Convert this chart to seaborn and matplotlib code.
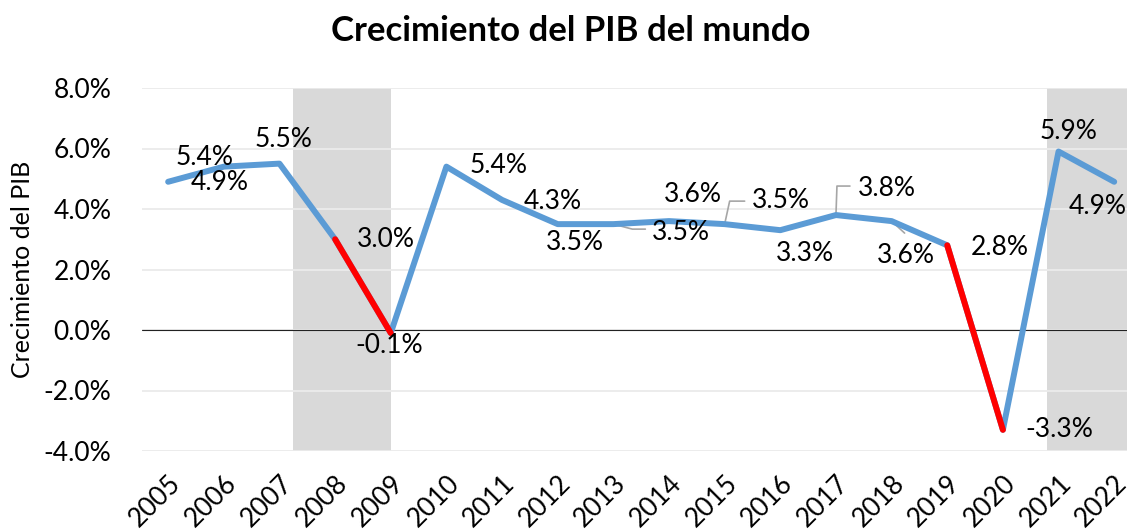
import numpy as np
import pandas as pd
import matplotlib
matplotlib.use("Agg")
import matplotlib.pyplot as plt
import seaborn as sns

# World GDP growth (%)
years = list(range(2005, 2023))
growth = [4.9, 5.4, 5.5, 3.0, -0.1, 5.4, 4.3, 3.5, 3.5, 3.6, 3.5, 3.3, 3.8, 3.6, 2.8, -3.3, 5.9, 4.9]
labels = ["4.9%", "5.4%", "5.5%", "3.0%", "-0.1%", "5.4%", "4.3%", "3.5%", "3.5%",
          "3.6%", "3.5%", "3.3%", "3.8%", "3.6%", "2.8%", "-3.3%", "5.9%", "4.9%"]
crisis_segments = [(2008, 2009), (2019, 2020)]
shade_spans = [(2007.25, 2009.0), (2020.8, 2022.3)]

# label offsets in pixels (x right, y up)
label_offsets = [(52, -1), (-19, 9), (4, 24), (51, 0), (-2, -12), (52, 1), (51, -2),
                 (17, -18), (68, -8), (24, 27), (56, 24), (25, -23), (51, 27), (14, -34),
                 (52, -2), (56, 0), (10, 20), (-16, -25)]
leaders = {2013: [(0, 0), (19, -5), (32, -5)],
           2015: [(0, 0), (5, 23), (20, 23)],
           2017: [(0, 0), (1, 29), (14, 29)],
           2018: [(0, 0), (13, -12)]}

df = pd.DataFrame({"year": years, "growth": growth})

sns.set_style("white")
plt.rcParams["font.family"] = ["Lato", "DejaVu Sans"]
plt.rcParams["text.color"] = "black"
plt.rcParams["axes.labelcolor"] = "black"
plt.rcParams["xtick.color"] = "black"
plt.rcParams["ytick.color"] = "black"

fig = plt.figure(figsize=(11.27, 5.29), dpi=100)
ax = fig.add_axes([142 / 1127, 1 - 451 / 529, 1 - 142 / 1127, (451 - 88) / 529])

for a, b in shade_spans:
    ax.axvspan(a, b, color="#d9d9d9", lw=0, zorder=0.2)

sns.lineplot(data=df, x="year", y="growth", color="#5b9bd5", lw=4.3, ax=ax, zorder=3)
for a, b in crisis_segments:
    seg = df[(df["year"] >= a) & (df["year"] <= b)]
    sns.lineplot(data=seg, x="year", y="growth", color="#ff0000", lw=4.3, ax=ax, zorder=4)

ax.axhline(0, color="#222222", lw=0.8, zorder=2)

ax.set_xlim(2004.53, 2022.23)
ax.set_ylim(-4, 8)
ax.set_yticks(np.arange(-4, 9, 2))
ax.set_yticklabels([f"{v:.1f}%" for v in np.arange(-4, 9, 2)])
ax.set_xticks(years)
ax.set_xticklabels([str(y) for y in years], rotation=45, ha="right", rotation_mode="anchor")
ax.tick_params(axis="y", length=0, pad=22, labelsize=19)
ax.tick_params(axis="x", length=0, pad=14, labelsize=19)
ax.set_axisbelow(True)
ax.grid(axis="y", color="#ebebeb", lw=1.3, zorder=0.5)
sns.despine(ax=ax, left=True, bottom=True)
ax.set_xlabel("")
ax.set_ylabel("Crecimiento del PIB", fontsize=18, labelpad=7)

for y, v, t, (dx, dy) in zip(years, growth, labels, label_offsets):
    ax.annotate(t, (y, v), xytext=(dx, dy), textcoords="offset pixels",
                ha="center", va="center", fontsize=19, zorder=5)

fig.canvas.draw()
for y, pts in leaders.items():
    v = growth[years.index(y)]
    px, py = ax.transData.transform((y, v))
    disp = [(px + dx, py + dy) for dx, dy in pts]
    data = ax.transData.inverted().transform(disp)
    ax.plot(data[:, 0], data[:, 1], color="#a6a6a6", lw=1.2, zorder=2.5)

fig.suptitle("Crecimiento del PIB del mundo", x=0.506, y=1 - 31 / 529, va="center",
             fontsize=25, fontweight="bold")

fig.savefig("out.png", dpi=100)
